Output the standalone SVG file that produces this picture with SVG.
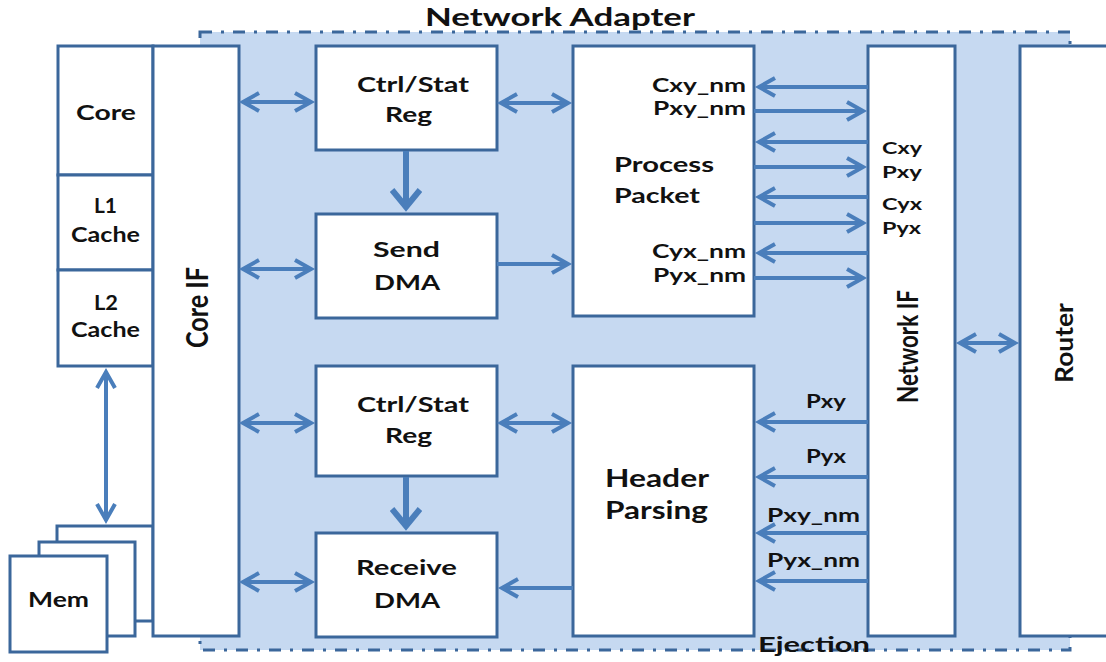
<svg xmlns="http://www.w3.org/2000/svg" width="1106" height="662" viewBox="0 0 1106 662">
  <style>
    .box { fill: #ffffff; stroke: #3b679b; stroke-width: 3; }
    .region { fill: #c6d9f1; stroke: #3b679b; stroke-width: 3; stroke-dasharray: 12 9 3 9; }
    .t { font-family: Lato, "Liberation Sans", sans-serif; font-weight: bold; fill: #111111; }
    .wire { fill: none; stroke: #4a7ebb; stroke-width: 4; }
    .wire2 { marker-start: url(#ah); marker-end: url(#ah); }
    .wire1 { marker-end: url(#ah); }
    .thick { fill: none; stroke: #4a7ebb; stroke-width: 6; marker-end: url(#ahBig); }
  </style>
  <defs>
    <marker id="ah" viewBox="-20 -12 26 24" refX="0" refY="0" markerWidth="26" markerHeight="24" markerUnits="userSpaceOnUse" orient="auto-start-reverse">
      <path d="M-16,-9 L0,0 L-16,9" fill="none" stroke="#4a7ebb" stroke-width="4"/>
    </marker>
    <marker id="ahBig" viewBox="-22 -16 30 32" refX="0" refY="0" markerWidth="30" markerHeight="32" markerUnits="userSpaceOnUse" orient="auto">
      <path d="M-17,-14 L0,0 L-17,14" fill="none" stroke="#4a7ebb" stroke-width="6"/>
    </marker>
  </defs>

  <!-- adapter region -->
  <g id="network-adapter">
    <rect class="region" x="200" y="32" width="870" height="618"/>
    <text class="t" x="425" y="26" font-size="25" textLength="270" lengthAdjust="spacingAndGlyphs">Network Adapter</text>
    <text class="t" x="758" y="652" font-size="21" textLength="112" lengthAdjust="spacingAndGlyphs">Ejection</text>
  </g>

  <!-- processor side -->
  <g id="core">
    <rect class="box" x="58" y="46" width="95" height="129"/>
    <text class="t" x="76" y="120" font-size="21" textLength="60" lengthAdjust="spacingAndGlyphs">Core</text>
  </g>
  <g id="l1-cache">
    <rect class="box" x="58" y="175" width="95" height="95"/>
    <text class="t" x="94" y="213" font-size="20" textLength="23" lengthAdjust="spacingAndGlyphs">L1</text>
    <text class="t" x="71" y="242" font-size="20" textLength="69" lengthAdjust="spacingAndGlyphs">Cache</text>
  </g>
  <g id="l2-cache">
    <rect class="box" x="58" y="270" width="95" height="96"/>
    <text class="t" x="94" y="310" font-size="20" textLength="24" lengthAdjust="spacingAndGlyphs">L2</text>
    <text class="t" x="71" y="337" font-size="20" textLength="69" lengthAdjust="spacingAndGlyphs">Cache</text>
  </g>
  <g id="mem">
    <rect class="box" x="57" y="526" width="96" height="95"/>
    <rect class="box" x="39" y="542" width="96" height="94"/>
    <rect class="box" x="10" y="556" width="97" height="96"/>
    <text class="t" x="28" y="607" font-size="21" textLength="61" lengthAdjust="spacingAndGlyphs">Mem</text>
  </g>
  <g id="core-if">
    <rect class="box" x="153" y="46" width="86" height="590"/>
    <text class="t" transform="translate(208,348) rotate(-90)" x="0" y="0" font-size="31" textLength="81" lengthAdjust="spacingAndGlyphs">Core IF</text>
  </g>

  <!-- send path -->
  <g id="ctrl-stat-send">
    <rect class="box" x="316" y="46" width="181" height="104"/>
    <text class="t" x="357" y="92" font-size="21" textLength="112" lengthAdjust="spacingAndGlyphs">Ctrl/Stat</text>
    <text class="t" x="385" y="122" font-size="21" textLength="47" lengthAdjust="spacingAndGlyphs">Reg</text>
  </g>
  <g id="send-dma">
    <rect class="box" x="316" y="214" width="181" height="104"/>
    <text class="t" x="373" y="257" font-size="21" textLength="67" lengthAdjust="spacingAndGlyphs">Send</text>
    <text class="t" x="374" y="290" font-size="21" textLength="66" lengthAdjust="spacingAndGlyphs">DMA</text>
  </g>
  <g id="process-packet">
    <rect class="box" x="573" y="46" width="181" height="270"/>
    <text class="t" x="614" y="172" font-size="21" textLength="100" lengthAdjust="spacingAndGlyphs">Process</text>
    <text class="t" x="614" y="203" font-size="21" textLength="86" lengthAdjust="spacingAndGlyphs">Packet</text>
    <text class="t" x="652" y="92" font-size="18" textLength="94" lengthAdjust="spacingAndGlyphs">Cxy_nm</text>
    <text class="t" x="653" y="115" font-size="18" textLength="93" lengthAdjust="spacingAndGlyphs">Pxy_nm</text>
    <text class="t" x="652" y="258" font-size="18" textLength="94" lengthAdjust="spacingAndGlyphs">Cyx_nm</text>
    <text class="t" x="653" y="282" font-size="18" textLength="93" lengthAdjust="spacingAndGlyphs">Pyx_nm</text>
  </g>

  <!-- receive path -->
  <g id="ctrl-stat-recv">
    <rect class="box" x="316" y="366" width="181" height="110"/>
    <text class="t" x="357" y="412" font-size="21" textLength="112" lengthAdjust="spacingAndGlyphs">Ctrl/Stat</text>
    <text class="t" x="385" y="443" font-size="21" textLength="47" lengthAdjust="spacingAndGlyphs">Reg</text>
  </g>
  <g id="receive-dma">
    <rect class="box" x="316" y="533" width="181" height="104"/>
    <text class="t" x="356" y="575" font-size="21" textLength="101" lengthAdjust="spacingAndGlyphs">Receive</text>
    <text class="t" x="374" y="608" font-size="21" textLength="66" lengthAdjust="spacingAndGlyphs">DMA</text>
  </g>
  <g id="header-parsing">
    <rect class="box" x="573" y="366" width="181" height="270"/>
    <text class="t" x="605" y="487" font-size="25" textLength="104" lengthAdjust="spacingAndGlyphs">Header</text>
    <text class="t" x="605" y="519" font-size="25" textLength="103" lengthAdjust="spacingAndGlyphs">Parsing</text>
  </g>

  <!-- network side -->
  <g id="network-if">
    <rect class="box" x="868" y="46" width="87" height="590"/>
    <text class="t" x="882" y="154" font-size="17" textLength="40" lengthAdjust="spacingAndGlyphs">Cxy</text>
    <text class="t" x="882" y="178" font-size="17" textLength="40" lengthAdjust="spacingAndGlyphs">Pxy</text>
    <text class="t" x="882" y="210" font-size="17" textLength="40" lengthAdjust="spacingAndGlyphs">Cyx</text>
    <text class="t" x="882" y="234" font-size="17" textLength="39" lengthAdjust="spacingAndGlyphs">Pyx</text>
    <text class="t" transform="translate(918,403) rotate(-90)" x="0" y="0" font-size="28" textLength="113" lengthAdjust="spacingAndGlyphs">Network IF</text>
  </g>
  <g id="router">
    <rect class="box" x="1020" y="46" width="100" height="590"/>
    <text class="t" transform="translate(1073,383) rotate(-90)" x="0" y="0" font-size="24" textLength="80" lengthAdjust="spacingAndGlyphs">Router</text>
  </g>

  <!-- connectors -->
  <g id="connectors">
    <!-- Core IF to register / DMA blocks -->
    <line class="wire wire2" x1="243" y1="102" x2="311" y2="102"/>
    <line class="wire wire2" x1="243" y1="269" x2="311" y2="269"/>
    <line class="wire wire2" x1="243" y1="423" x2="311" y2="423"/>
    <line class="wire wire2" x1="243" y1="582" x2="311" y2="582"/>
    <!-- registers to packet logic -->
    <line class="wire wire2" x1="501" y1="103" x2="568" y2="103"/>
    <line class="wire wire2" x1="501" y1="423" x2="568" y2="423"/>
    <line class="wire wire1" x1="497" y1="264" x2="568" y2="264"/>
    <line class="wire wire1" x1="573" y1="588" x2="502" y2="588"/>
    <!-- register to DMA -->
    <line class="thick" x1="406" y1="151" x2="406" y2="207"/>
    <line class="thick" x1="406" y1="477" x2="406" y2="526"/>
    <!-- L2 cache to memory -->
    <line class="wire wire2" x1="106" y1="372" x2="106" y2="520"/>
    <!-- injection channels -->
    <line class="wire wire1" x1="868" y1="87" x2="759" y2="87"/>
    <line class="wire wire1" x1="754" y1="111" x2="863" y2="111"/>
    <line class="wire wire1" x1="868" y1="142" x2="759" y2="142"/>
    <line class="wire wire1" x1="754" y1="167" x2="863" y2="167"/>
    <line class="wire wire1" x1="868" y1="197" x2="759" y2="197"/>
    <line class="wire wire1" x1="754" y1="223" x2="863" y2="223"/>
    <line class="wire wire1" x1="868" y1="253" x2="759" y2="253"/>
    <line class="wire wire1" x1="754" y1="278" x2="863" y2="278"/>
    <!-- ejection channels -->
    <line class="wire wire1" x1="868" y1="422" x2="759" y2="422"/>
    <line class="wire wire1" x1="868" y1="477" x2="759" y2="477"/>
    <line class="wire wire1" x1="868" y1="533" x2="759" y2="533"/>
    <line class="wire wire1" x1="868" y1="581" x2="759" y2="581"/>
    <!-- Network IF to router -->
    <line class="wire wire2" x1="960" y1="343" x2="1015" y2="343"/>
  </g>

  <!-- header parsing labels over ejection channels -->
  <g id="ejection-labels">
    <text class="t" x="806" y="408" font-size="18" textLength="40" lengthAdjust="spacingAndGlyphs">Pxy</text>
    <text class="t" x="806" y="463" font-size="18" textLength="40" lengthAdjust="spacingAndGlyphs">Pyx</text>
    <text class="t" x="767" y="522" font-size="18" textLength="93" lengthAdjust="spacingAndGlyphs">Pxy_nm</text>
    <text class="t" x="767" y="567" font-size="18" textLength="93" lengthAdjust="spacingAndGlyphs">Pyx_nm</text>
  </g>
</svg>
